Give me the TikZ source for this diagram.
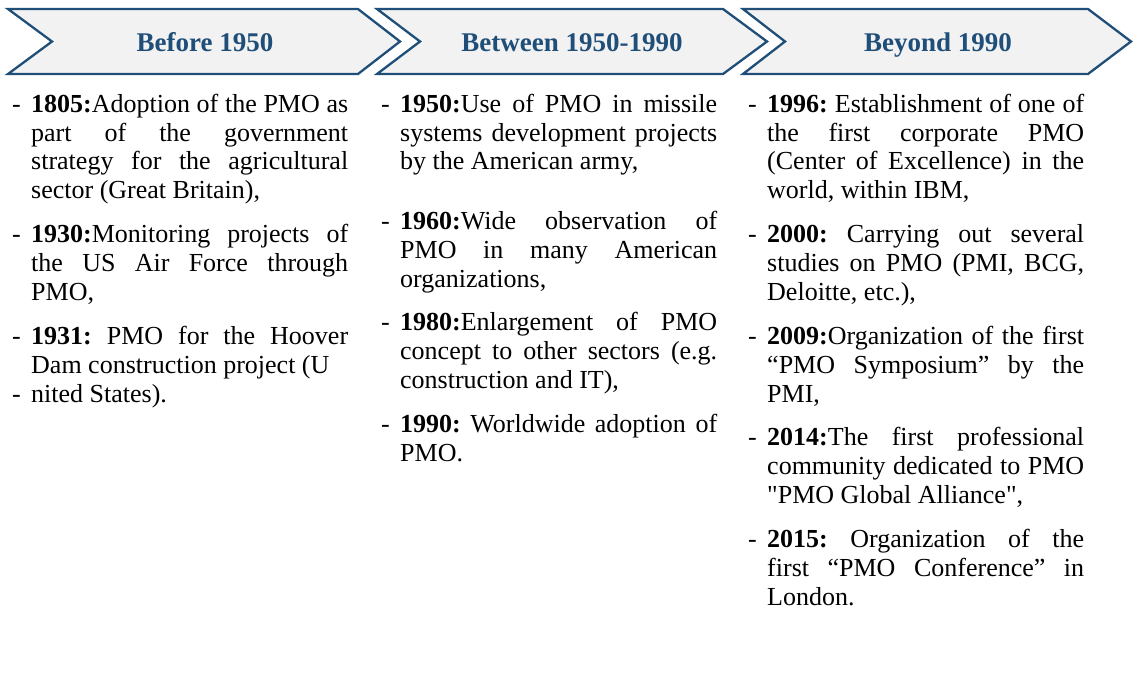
\documentclass[tikz,border=0pt]{standalone}
\usepackage{fontspec}
\setmainfont{Liberation Serif}[Ligatures=TeXOff]
\usepackage{tikz}
\usetikzlibrary{positioning}
\usepackage{xcolor}
\definecolor{phaseblue}{HTML}{1F4E79}
\definecolor{phasefill}{HTML}{F2F2F2}
\hyphenpenalty=10000
\exhyphenpenalty=10000
\frenchspacing
\newcommand{\entryfont}{\fontsize{26pt}{29pt}\selectfont}
% dash in front of each entry, the text hangs beside it
\newcommand{\dashitem}[1]{\makebox[19pt][l]{-}\parbox[t]{317pt}{\entryfont #1}}
\tikzset{
	phase/.style={%
		draw=phaseblue, fill=phasefill,
		line width=2.3pt, line join=miter
	},
	phaselabel/.style={%
		anchor=base, inner sep=0pt,
		text=phaseblue,
		font=\fontsize{27pt}{29pt}\selectfont\bfseries
	},
	entry/.style={%
		anchor=base west, inner sep=0pt,
		font=\entryfont
	}
}
\begin{document}
\begin{tikzpicture}[x=1pt,y=-1pt]
		
		\useasboundingbox (0,0) rectangle (1133,677);
		
		% the three chevrons
		\draw[phase] (8,9) -- (358,9) -- (400,41.5) -- (358,74) -- (8,74) -- (52,41.5) -- cycle;
		\draw[phase] (377,9) -- (723,9) -- (767,41.5) -- (723,74) -- (377,74) -- (420,41.5) -- cycle;
		\draw[phase] (743,9) -- (1088,9) -- (1131,41.5) -- (1088,74) -- (743,74) -- (785,41.5) -- cycle;
		
		\node[phaselabel] (before) at (205,51.5) {Before 1950};
		\node[phaselabel] (between) at (572,51.5) {Between 1950-1990};
		\node[phaselabel] (beyond) at (938,51.5) {Beyond 1990};
		
		% first column
		\node[entry] (b1805) at (12,112) {\dashitem{\textbf{1805:}Adoption of the PMO as\linebreak part of the government\linebreak strategy for the agricultural\linebreak sector (Great Britain),}};
		\node[entry] (b1930) at (12,242.5) {\dashitem{\textbf{1930:}Monitoring projects of\linebreak the US Air Force through\linebreak PMO,}};
		\node[entry] (b1931) at (12,344) {\dashitem{\textbf{1931:} PMO for the Hoover\linebreak Dam construction project (U}};
		\node[entry] (bstates) at (12,402) {\dashitem{nited States).}};
		
		% second column
		\node[entry] (m1950) at (381,112) {\dashitem{\textbf{1950:}Use of PMO in missile\linebreak systems development projects\linebreak by the American army,}};
		\node[entry] (m1960) at (381,229) {\dashitem{\textbf{1960:}Wide observation of\linebreak PMO in many American\linebreak organizations,}};
		\node[entry] (m1980) at (381,330.5) {\dashitem{\textbf{1980:}Enlargement of PMO\linebreak concept to other sectors (e.g.\linebreak construction and IT),}};
		\node[entry] (m1990) at (381,432) {\dashitem{\textbf{1990:} Worldwide adoption of\linebreak PMO.}};
		
		% third column
		\node[entry] (a1996) at (748,112) {\dashitem{\textbf{1996:} Establishment of one of\linebreak the first corporate PMO\linebreak (Center of Excellence) in the\linebreak world, within IBM,}};
		\node[entry] (a2000) at (748,242.5) {\dashitem{\textbf{2000:} Carrying out several\linebreak studies on PMO (PMI, BCG,\linebreak Deloitte, etc.),}};
		\node[entry] (a2009) at (748,344) {\dashitem{\textbf{2009:}Organization of the first\linebreak “PMO Symposium” by the\linebreak PMI,}};
		\node[entry] (a2014) at (748,445.5) {\dashitem{\textbf{2014:}The first professional\linebreak community dedicated to PMO\linebreak "PMO Global Alliance",}};
		\node[entry] (a2015) at (748,547) {\dashitem{\textbf{2015:} Organization of the\linebreak first “PMO Conference” in\linebreak London.}};
		
\end{tikzpicture}
\end{document}
